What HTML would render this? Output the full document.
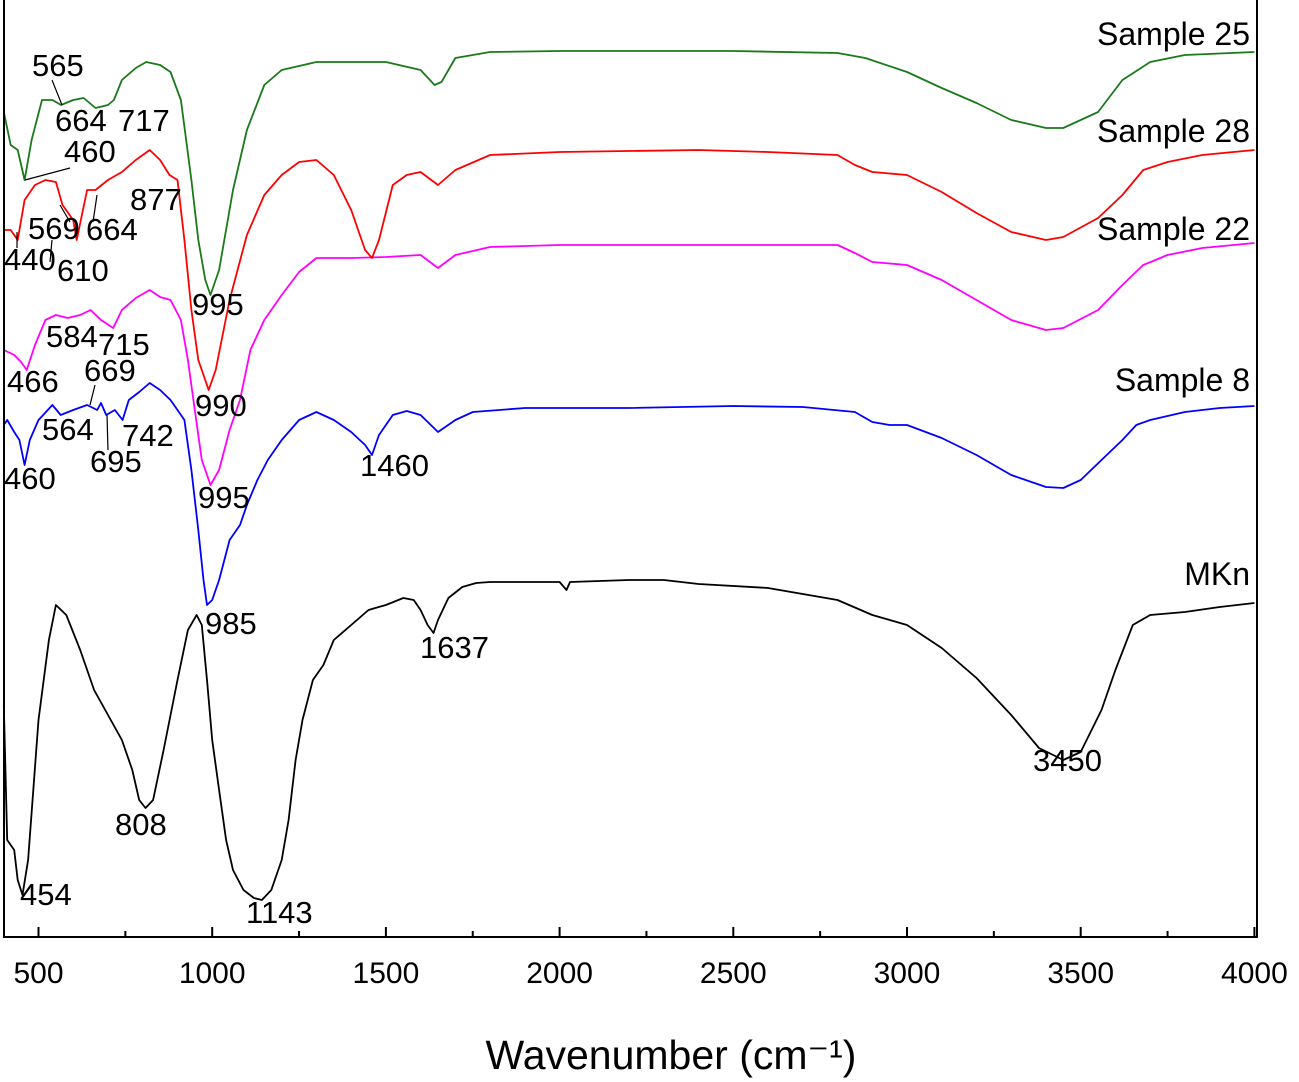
<!DOCTYPE html>
<html><head><meta charset="utf-8"><style>
html,body{margin:0;padding:0;background:#fff;}
svg{display:block;font-family:"Liberation Sans",Arial,sans-serif;}
</style></head><body>
<svg id="chart" width="1299" height="1082" viewBox="0 0 1299 1082"></svg>
<script>
const xTicks=[500,1000,1500,2000,2500,3000,3500,4000];
const mknW=[400,410,430,440,454,470,500,530,550,580,620,660,700,740,770,790,808,830,860,900,930,955,970,985,1000,1020,1040,1060,1090,1120,1143,1170,1200,1220,1240,1260,1290,1320,1350,1400,1450,1500,1550,1580,1600,1620,1637,1650,1680,1720,1760,1800,2000,2020,2030,2200,2300,2400,2600,2800,2900,3000,3100,3200,3300,3380,3450,3500,3560,3600,3650,3700,3800,3900,4000];
const mknV=[23.2,9.7,8.7,5.7,4.2,7.7,21.7,29.7,33.2,32.2,28.7,24.7,22.2,19.7,16.7,13.7,12.9,13.7,18.7,25.7,30.7,32.2,31.2,25.7,19.7,14.7,9.7,6.7,4.7,3.9,3.7,4.7,7.7,11.7,17.7,21.7,25.7,27.2,29.7,31.2,32.7,33.2,33.9,33.7,32.7,31.2,30.4,31.7,33.9,35.0,35.4,35.5,35.5,34.7,35.5,35.7,35.7,35.3,34.9,33.7,32.2,31.2,28.9,25.9,22.2,18.9,17.7,18.5,22.7,26.7,31.2,32.2,32.5,33.0,33.4];
const s8W=[400,410,430,445,460,475,500,540,564,600,640,669,680,695,720,742,760,790,820,850,880,900,920,940,960,975,985,1000,1020,1050,1080,1100,1130,1160,1200,1250,1300,1350,1400,1440,1460,1480,1520,1560,1600,1650,1700,1750,1900,2200,2500,2700,2850,2900,2950,3000,3100,3200,3300,3400,3450,3500,3560,3620,3660,3700,3800,3900,4000];
const s8V=[51.2,51.7,50.5,49.7,47.2,49.7,51.7,53.2,52.2,52.7,53.2,52.7,53.4,52.2,52.7,51.7,53.7,54.5,55.4,54.7,53.7,52.7,51.7,46.7,40.7,35.7,33.2,33.7,35.7,39.7,41.2,43.2,45.7,47.7,49.7,51.7,52.5,51.7,50.5,49.2,48.2,50.2,52.2,52.6,52.2,50.5,51.7,52.5,52.9,52.9,53.1,53.0,52.5,51.5,51.2,51.2,49.9,48.2,46.2,45.0,44.9,45.7,47.7,49.7,51.2,51.7,52.5,52.9,53.1];
const s22W=[400,430,450,466,490,520,550,584,620,650,680,715,740,780,820,850,880,910,930,950,970,995,1020,1050,1080,1110,1150,1200,1250,1300,1400,1500,1600,1650,1700,1800,2000,2500,2800,2850,2900,3000,3100,3200,3300,3400,3450,3550,3620,3680,3750,3850,4000];
const s22V=[58.7,58.2,57.5,56.7,59.2,61.7,62.2,61.9,62.2,62.7,61.7,60.9,62.7,63.9,64.7,64.0,63.7,61.7,57.7,52.7,47.7,45.2,46.7,50.7,53.7,58.7,61.7,64.2,66.5,67.9,67.9,68.0,68.2,66.9,68.2,69.0,69.2,69.2,69.2,68.4,67.5,67.2,65.7,63.7,61.7,60.7,60.9,62.7,65.2,67.2,68.2,68.9,69.4];
const s28W=[400,420,440,460,490,520,550,569,600,610,640,664,700,740,780,820,850,877,900,920,940,960,990,1010,1050,1100,1150,1200,1250,1300,1350,1400,1440,1460,1480,1520,1560,1600,1650,1700,1800,2000,2400,2600,2800,2850,2900,3000,3100,3200,3300,3400,3450,3550,3620,3680,3750,3850,4000];
const s28V=[70.7,70.7,69.7,73.7,75.2,75.7,75.5,73.2,71.7,69.7,74.7,74.7,75.7,76.5,77.7,78.7,77.7,76.2,75.7,69.7,62.7,57.7,54.7,56.7,63.7,70.2,74.2,76.2,77.5,77.7,76.2,72.7,68.7,67.9,69.7,75.2,76.2,76.5,75.2,76.7,78.2,78.5,78.7,78.5,78.2,77.2,76.5,76.2,74.5,72.4,70.5,69.7,70.0,71.9,74.2,76.7,77.5,78.2,78.7];
const s25W=[400,420,440,460,480,510,540,565,600,630,664,700,717,740,780,810,850,880,910,940,960,980,995,1020,1060,1100,1150,1200,1300,1400,1500,1600,1640,1660,1700,1800,2000,2500,2800,2880,3000,3100,3200,3300,3400,3450,3550,3620,3700,3800,4000];
const s25V=[82.5,79.2,78.7,75.7,79.7,83.7,83.7,83.2,83.7,83.9,82.9,83.2,83.7,85.7,86.9,87.5,87.2,86.5,83.7,75.7,69.7,65.7,64.2,66.7,74.7,80.7,85.2,86.7,87.5,87.5,87.5,86.7,85.2,85.5,87.9,88.5,88.6,88.6,88.4,87.9,86.5,84.9,83.4,81.7,80.9,80.9,82.5,85.7,87.5,88.2,88.5];

const NS='http://www.w3.org/2000/svg';
const svg=document.getElementById('chart');
const X0=4,X1=1257,YB=937;
function xs(w){return 38.5+(w-500)*0.3474;}
function ys(v){return YB-v*10;}
function mk(tag,attrs){const e=document.createElementNS(NS,tag);for(const k in attrs)e.setAttribute(k,attrs[k]);svg.appendChild(e);return e;}

function series(W,V,color,name){
  const p=W.map((w,i)=>xs(w).toFixed(1)+','+ys(V[i]).toFixed(1)).join(' ');
  const el=mk('polyline',{points:p,fill:'none',stroke:color,'stroke-width':1.8,'stroke-linejoin':'round'});
  
  
}
series(mknW,mknV,'#000','series-mkn');
series(s8W,s8V,'#0000ff','series-sample-8');
series(s22W,s22V,'#ff00ff','series-sample-22');
series(s28W,s28V,'#ff0000','series-sample-28');
series(s25W,s25V,'#1a7a1a','series-sample-25');

const fr=mk('polyline',{points:`${X0},0 ${X0},${YB} ${X1},${YB} ${X1},0`,fill:'none',stroke:'#000','stroke-width':2});



for(let w=500;w<=4000;w+=250){
  const major=(w%500===0);
  const t=mk('line',{x1:xs(w),x2:xs(w),y1:YB,y2:YB-(major?10:6),stroke:'#000','stroke-width':2});
  
  
}
xTicks.forEach(w=>{
  const t=mk('text',{x:xs(w),y:983,'font-size':30,'text-anchor':'middle'});
  t.textContent=w;
  
  
});
</script>
<script>
(function(){
const NS='http://www.w3.org/2000/svg';
const svg=document.getElementById('chart');
function add(tag,a,txt){const e=document.createElementNS(NS,tag);for(const k in a)e.setAttribute(k,a[k]);if(txt)e.textContent=txt;svg.appendChild(e);return e;}
const labels=[['565',32,76],['664',55,131],['717',118,131],['460',64,162],['569',28,239],['664',86,240],['440',4,270],['610',57,281],['877',130,210],['995',192,315],['990',195,416],['584',46,347],['715',98,355],['466',7,392],['669',84,381],['564',42,440],['742',122,446],['695',90,472],['460',4,489],['995',198,508],['1460',360,476],['985',205,634],['1637',420,658],['3450',1033,771],['808',115,835],['454',20,905],['1143',246,923]];
labels.forEach(l=>{
  const t=add('text',{x:l[1],y:l[2],'font-size':31},l[0]);
  
  
});
const leaders=[[52,80,62,105],[25,180,70,168],[60,205,70,222],[97,195,93,222],[52,240,50,262],[17,232,17,248],[95,385,90,405],[107,415,108,450]];
leaders.forEach(l=>{
  const e=add('line',{x1:l[0],y1:l[1],x2:l[2],y2:l[3],stroke:'#000','stroke-width':1.2});
  
  
});
const sl=[['Sample 25',45],['Sample 28',142],['Sample 22',240],['Sample 8',391],['MKn',585]];
sl.forEach(s=>{
  const t=add('text',{x:1250,y:s[1],'font-size':32,'text-anchor':'end'},s[0]);
  
  
});
const at=add('text',{x:671,y:1069,'font-size':41,'text-anchor':'middle'},'Wavenumber (cm\u207B\u00B9)');


})();
</script>
</body></html>
